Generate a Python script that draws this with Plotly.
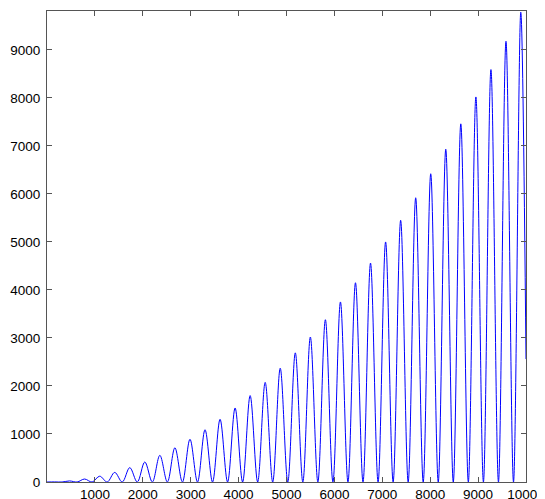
import plotly.graph_objects as go

# Peaks (x, height) and troughs
peak_x = [157, 471, 785, 1100, 1414, 1728, 2042, 2356, 2670, 2985, 3299, 3613,
          3927, 4241, 4555, 4869, 5184, 5498, 5812, 6126, 6440, 6754, 7069,
          7383, 7697, 8011, 8325, 8639, 8954, 9268, 9582, 9891]
peak_y = [2, 22, 62, 121, 200, 299, 417, 555, 713, 890, 1088, 1305, 1542,
          1800, 2075, 2370, 2690, 3020, 3380, 3750, 4150, 4560, 5000, 5450,
          5920, 6420, 6930, 7460, 8020, 8590, 9180, 9785]
trough_x = [0, 314, 628, 942, 1257, 1571, 1885, 2199, 2513, 2827, 3142, 3456,
            3770, 4084, 4398, 4712, 5027, 5341, 5655, 5969, 6283, 6597, 6912,
            7226, 7540, 7854, 8168, 8482, 8796, 9111, 9425, 9739]
end_x = 10000
end_y = 2560

x_ticks = [1000, 2000, 3000, 4000, 5000, 6000, 7000, 8000, 9000, 10000]
y_ticks = [0, 1000, 2000, 3000, 4000, 5000, 6000, 7000, 8000, 9000]

xs, ys = [], []
for tx, px, py in zip(trough_x, peak_x, peak_y):
    xs += [tx, px]
    ys += [0, py]
xs.append(end_x)
ys.append(end_y)

fig = go.Figure()
fig.add_trace(go.Scatter(x=xs, y=ys, mode="lines",
                         line=dict(color="#0000ff", width=1, shape="spline"),
                         hoverinfo="skip"))

axis_common = dict(showgrid=False, zeroline=False, showline=True,
                   linecolor="#555555", linewidth=1, mirror="ticks",
                   ticks="inside", ticklen=5, tickcolor="#555555",
                   tickfont=dict(family="Liberation Sans, Arial", size=13.5, color="#000000"),
                   ticklabeloverflow="allow", automargin=False)
fig.update_xaxes(range=[0, 10000], tickvals=x_ticks, ticklabelstandoff=0,
                 ticktext=[str(v) for v in x_ticks], **axis_common)
fig.update_yaxes(range=[0, 9810], tickvals=y_ticks, ticklabelstandoff=3,
                 ticktext=[str(v) for v in y_ticks], **axis_common)
fig.update_layout(width=537, height=491, showlegend=False,
                  margin=dict(l=39, r=19, t=3, b=17),
                  paper_bgcolor="white", plot_bgcolor="white")
fig.write_html("out.html")
